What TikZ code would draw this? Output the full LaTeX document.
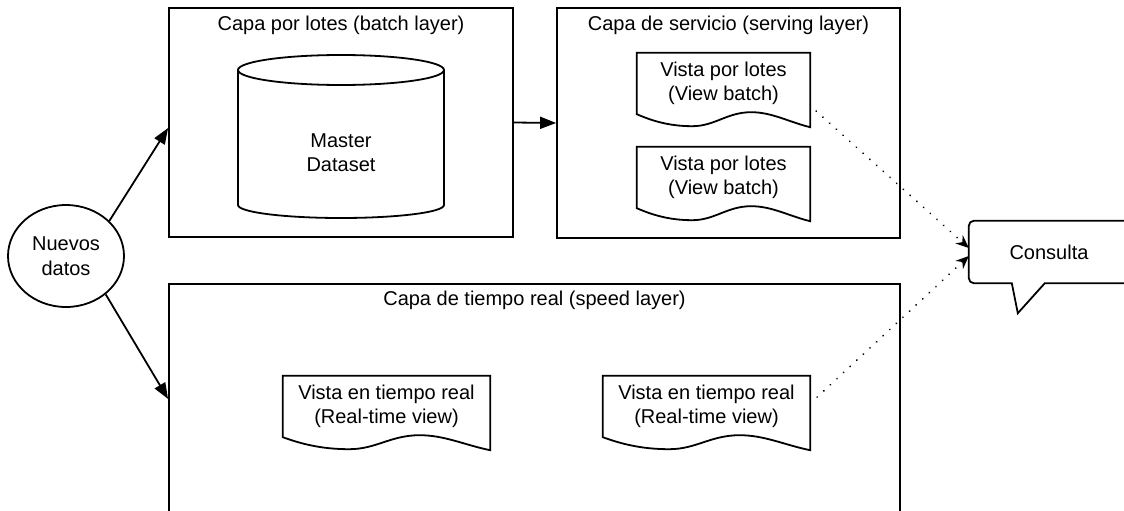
\documentclass[tikz,border=0pt]{standalone}
\usepackage{fontspec}
\setmainfont{Liberation Sans}
\usetikzlibrary{shapes.geometric,arrows.meta,calc}
\tikzset{
	borde/.style={line width=1.8pt},
	capa/.style={draw, borde, inner sep=0pt},
	vista/.style={inner sep=0pt, align=center, minimum height=61pt},
	flecha/.style={borde, -{Triangle[length=16pt,width=12pt]}},
	consultaflecha/.style={line width=2pt, line cap=round, dash pattern=on 0.01pt off 9pt, -{Stealth[length=13pt,width=11pt]}}
}
\newcommand{\vistaborde}[1]{%
	\draw[borde] (#1.south west) -- (#1.north west) -- (#1.north east) -- ($(#1.south east)+(0,13)$)
		.. controls ($(#1.south west)!0.88!(#1.south east)+(0,8)$) and ($(#1.south west)!0.78!(#1.south east)+(0,-2)$) .. ($(#1.south west)!0.66!(#1.south east)+(0,-2)$)
		.. controls ($(#1.south west)!0.52!(#1.south east)+(0,-2)$) and ($(#1.south west)!0.45!(#1.south east)+(0,12)$) .. ($(#1.south west)!0.32!(#1.south east)+(0,12)$)
		.. controls ($(#1.south west)!0.18!(#1.south east)+(0,12)$) and ($(#1.south west)!0.08!(#1.south east)+(0,6)$) .. (#1.south west) -- cycle;}
\begin{document}
\begin{tikzpicture}[x=1pt,y=-1pt,every node/.style={font=\fontsize{20}{24.5}\selectfont}]
	\useasboundingbox (0,0) rectangle (1124,511);
	\node[ellipse, draw, borde, minimum width=116pt, minimum height=102pt, inner sep=0pt, align=center] (nuevos) at (66,256) {Nuevos\\datos};
	\node[capa, minimum width=344pt, minimum height=229pt] (batch) at (341,122.5) {};
	\node (batchtitulo) at (341,25) {Capa por lotes (batch layer)};
	\draw[borde] (238,70) -- (238,205) arc[start angle=180, end angle=360, x radius=103pt, y radius=13pt] -- (444,70);
	\draw[borde] (341,70) ellipse [x radius=103pt, y radius=15pt];
	\node[align=center] (master) at (341,152.5) {Master\\Dataset};
	\node[capa, minimum width=343pt, minimum height=230pt] (serving) at (728.5,123) {};
	\node (servingtitulo) at (728.5,25) {Capa de servicio (serving layer)};
	\node[vista, minimum width=173pt] (lotes1) at (723.5,83.5) {Vista por lotes\\(View batch)};
	\node[vista, minimum width=173pt] (lotes2) at (723.5,177.5) {Vista por lotes\\(View batch)};
	\vistaborde{lotes1}
	\vistaborde{lotes2}
	\node[capa, minimum width=731pt, minimum height=230pt] (speed) at (534.5,399) {};
	\node (speedtitulo) at (534.5,300) {Capa de tiempo real (speed layer)};
	\node[vista, minimum width=207pt] (real1) at (386.5,406.5) {Vista en tiempo real\\(Real-time view)};
	\node[vista, minimum width=207pt] (real2) at (706.5,406.5) {Vista en tiempo real\\(Real-time view)};
	\vistaborde{real1}
	\vistaborde{real2}
	\node[minimum width=160pt, minimum height=62pt] (consulta) at (1049,252) {Consulta};
	\draw[borde] ($(consulta.south west)+(43,0)$) [rounded corners=5pt] -- (consulta.south west) -- (consulta.north west) -- (consulta.north east) -- (consulta.south east) [sharp corners] -- ($(consulta.south west)+(76,0)$) -- ($(consulta.south west)+(49,30)$) -- cycle;
	\draw[flecha] (nuevos.39) -- ([yshift=-5.5pt]batch.west);
	\draw[flecha] (nuevos.-44) -- (speed.west);
	\draw[flecha] (batch.east) -- (serving.west);
	\draw[consultaflecha] ([xshift=6pt,yshift=3pt]lotes1.south east) -- ([yshift=4pt]consulta.west);
	\draw[consultaflecha] ([xshift=7pt,yshift=9.5pt]real2.east) -- ([yshift=-4pt]consulta.west);
\end{tikzpicture}
\end{document}
